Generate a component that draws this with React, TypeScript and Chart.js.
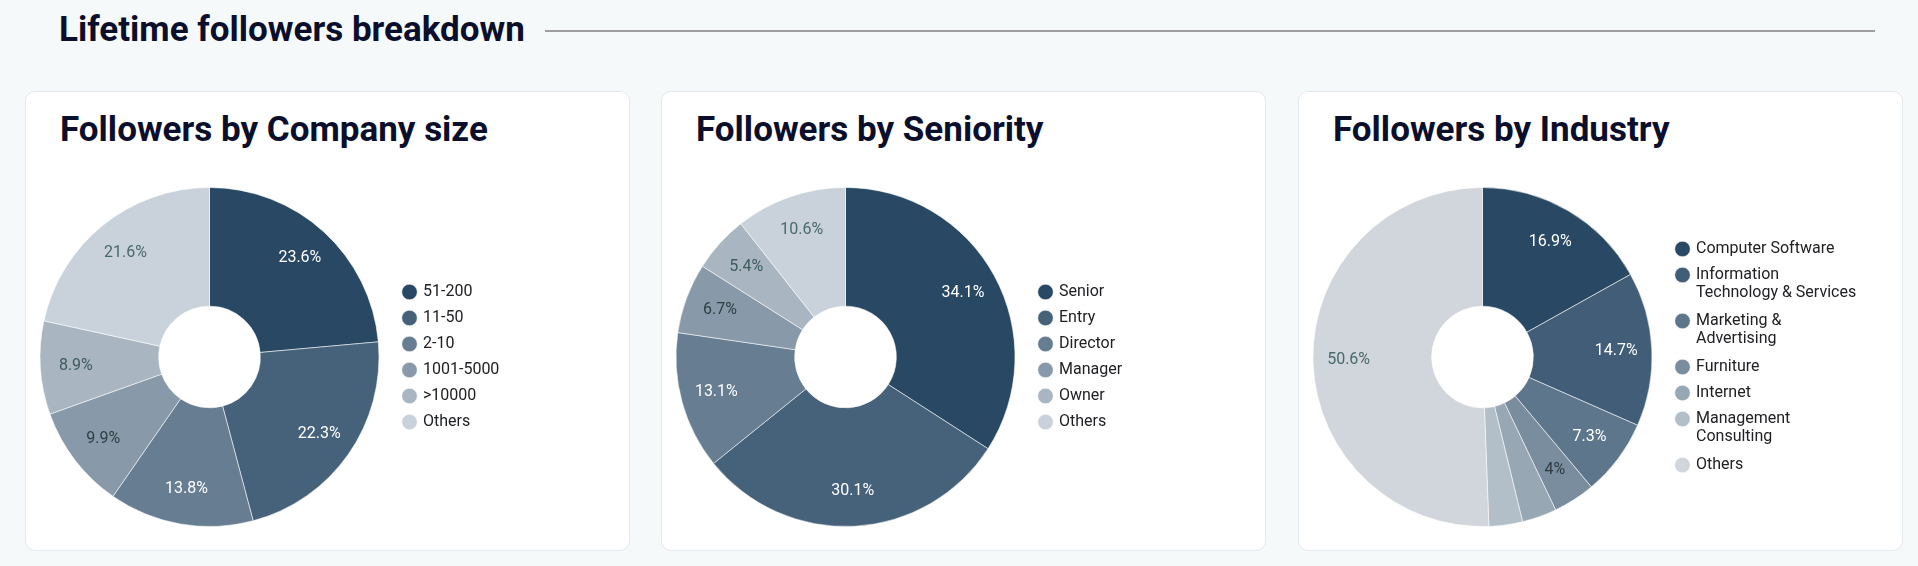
import { useEffect, useRef } from "react"
import { Chart, registerables } from "chart.js"

Chart.register(...registerables)

// data
const companyLabels = ["51-200", "11-50", "2-10", "1001-5000", ">10000", "Others"]
const companyValues = [23.6, 22.3, 13.8, 9.9, 8.9, 21.6]

const seniorityLabels = ["Senior", "Entry", "Director", "Manager", "Owner", "Others"]
const seniorityValues = [34.1, 30.1, 13.1, 6.7, 5.4, 10.6]

const industryLabels: (string | string[])[] = [
  "Computer Software",
  ["Information", "Technology & Services"],
  ["Marketing &", "Advertising"],
  "Furniture",
  "Internet",
  ["Management", "Consulting"],
  "Others",
]
const industryValues = [16.9, 14.7, 7.3, 4, 3.3, 3.2, 50.6]

const sixColors = ["#284863", "#46627b", "#667d92", "#8899a9", "#a9b6c1", "#c9d2da"]
const sixText = ["#ffffff", "#ffffff", "#ffffff", "#2e4045", "#3d5b5d", "#48696b"]
const sevenColors = ["#284863", "#425d78", "#5e768b", "#7a8d9e", "#97a7b4", "#b3bfc8", "#d0d6dc"]
const sevenText = ["#ffffff", "#ffffff", "#ffffff", "#2c3b40", "#3d5b5d", "#3d5b5d", "#48696b"]

const FONT = "Roboto, 'Noto Sans', sans-serif"
const CANVAS_W = 605
const LEGEND_LEFT = 369
const BOX = 11

// percentage labels inside the slices
const sliceLabels = {
  id: "sliceLabels",
  afterDatasetsDraw(chart: any, _args: any, opts: any) {
    const { ctx } = chart
    const meta = chart.getDatasetMeta(0)
    const values = chart.data.datasets[0].data as number[]
    ctx.save()
    ctx.font = `16px ${FONT}`
    ctx.textAlign = "center"
    ctx.textBaseline = "middle"
    meta.data.forEach((arc: any, i: number) => {
      if (values[i] < 4) return
      const { startAngle, endAngle, outerRadius, x, y } = arc.getProps(
        ["startAngle", "endAngle", "outerRadius", "x", "y"],
        true
      )
      const mid = (startAngle + endAngle) / 2
      const r = outerRadius * 0.79
      ctx.fillStyle = opts.colors[i]
      ctx.fillText(`${values[i]}%`, x + Math.cos(mid) * r, y + Math.sin(mid) * r)
    })
    ctx.restore()
  },
}

function legendWidth(labels: (string | string[])[]) {
  const c = document.createElement("canvas").getContext("2d")!
  c.font = `16px ${FONT}`
  let max = 0
  labels.forEach((l) => {
    const t = Array.isArray(l) ? l.reduce((a, b) => (a.length > b.length ? a : b)) : l
    max = Math.max(max, c.measureText(t).width)
  })
  return 10 + (BOX + 8 + max) + 10
}

type CardProps = {
  title: string
  left: number
  labels: (string | string[])[]
  values: number[]
  colors: string[]
  textColors: string[]
}

function PieCard({ title, left, labels, values, colors, textColors }: CardProps) {
  const chartRef = useRef<HTMLCanvasElement>(null)
  const chartInstance = useRef<Chart | null>(null)

  useEffect(() => {
    if (!chartRef.current) return
    if (chartInstance.current) chartInstance.current.destroy()

    const padRight = CANVAS_W - LEGEND_LEFT - legendWidth(labels)

    chartInstance.current = new Chart(chartRef.current, {
      type: "doughnut",
      data: {
        labels: labels as any,
        datasets: [
          {
            data: values,
            backgroundColor: colors,
            borderColor: "rgba(255,255,255,0.55)",
            borderWidth: 1,
            hoverOffset: 0,
          },
        ],
      },
      options: {
        animation: false,
        responsive: true,
        maintainAspectRatio: false,
        cutout: "30%",
        layout: { padding: { left: 0, right: padRight, top: 0, bottom: 0 } },
        plugins: {
          legend: {
            position: "right",
            align: "center",
            labels: {
              usePointStyle: true,
              pointStyle: "circle",
              boxWidth: BOX,
              boxHeight: BOX,
              padding: 10,
              color: "#202124",
              font: { family: FONT, size: 16, lineHeight: 1.125 },
            },
          },
          tooltip: { enabled: false },
          sliceLabels: { colors: textColors },
        } as any,
      },
      plugins: [sliceLabels],
    })

    return () => {
      if (chartInstance.current) {
        chartInstance.current.destroy()
        chartInstance.current = null
      }
    }
  }, [])

  return (
    <div
      style={{
        position: "absolute",
        left,
        top: 91,
        width: 605,
        height: 460,
        background: "#ffffff",
        border: "1px solid #e4e9ed",
        borderRadius: 10,
        boxSizing: "border-box",
      }}
    >
      <div
        style={{
          position: "absolute",
          left: 34,
          top: 20,
          fontFamily: FONT,
          fontWeight: 700,
          fontSize: 35,
          lineHeight: "35px",
          color: "#0b0f2c",
          whiteSpace: "nowrap",
        }}
      >
        {title}
      </div>
      <div style={{ position: "absolute", left: -1, top: 95, width: CANVAS_W, height: 340 }}>
        <canvas ref={chartRef} />
      </div>
    </div>
  )
}

export default function App() {
  useEffect(() => {
    document.body.style.margin = "0"
  }, [])

  return (
    <div
      style={{
        position: "relative",
        width: 1918,
        height: 566,
        background: "#f6f9fa",
        overflow: "hidden",
      }}
    >
      <div
        style={{
          position: "absolute",
          left: 59,
          top: 12,
          fontFamily: FONT,
          fontWeight: 700,
          fontSize: 35,
          lineHeight: "35px",
          color: "#0b0f2c",
          whiteSpace: "nowrap",
        }}
      >
        Lifetime followers breakdown
      </div>
      <div
        style={{
          position: "absolute",
          left: 545,
          top: 30,
          width: 1330,
          height: 2,
          background: "#9e9e9e",
        }}
      />
      <PieCard
        title="Followers by Company size"
        left={25}
        labels={companyLabels}
        values={companyValues}
        colors={sixColors}
        textColors={sixText}
      />
      <PieCard
        title="Followers by Seniority"
        left={661}
        labels={seniorityLabels}
        values={seniorityValues}
        colors={sixColors}
        textColors={sixText}
      />
      <PieCard
        title="Followers by Industry"
        left={1298}
        labels={industryLabels}
        values={industryValues}
        colors={sevenColors}
        textColors={sevenText}
      />
    </div>
  )
}
